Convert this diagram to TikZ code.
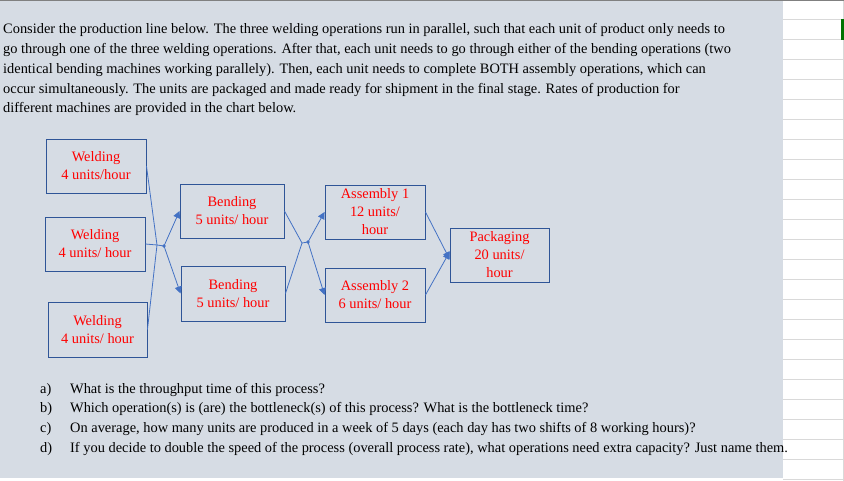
\documentclass[tikz,border=0pt]{standalone}
\usepackage{fontspec}
\setmainfont{Liberation Serif}
\usetikzlibrary{arrows.meta}
\definecolor{bg}{HTML}{D6DCE4}
\definecolor{ln}{HTML}{4472C4}
\definecolor{bx}{HTML}{2F5597}
\definecolor{grid}{HTML}{D9D9D9}
\begin{document}
\begin{tikzpicture}[x=1pt,y=-1pt,
  box/.style={draw=bx,line width=0.9pt,text=red,align=center,font=\fontsize{14.4}{18}\selectfont,inner sep=0pt},
  txt/.style={anchor=west,inner sep=0pt,font=\fontsize{14.4}{16}\selectfont},
  con/.style={draw=ln,line width=0.8pt},
  arr/.style={con,-{Triangle[length=7pt,width=7pt]}}]
\useasboundingbox (0,0) rectangle (844,481);
\fill[white] (0,0) rectangle (844,481);
\foreach \y in {19,39,...,479} \draw[grid,line width=0.8pt] (783,\y) -- (843,\y);
\draw[grid,line width=0.8pt] (843,0) -- (843,481);
\fill[green!45!black] (841,19) rectangle (844,40);
\fill[bg] (0,0) rectangle (783,478);
\draw[gray,line width=0.8pt] (0,0.5) -- (844,0.5);
\node[txt] (l1) at (3,30) {Consider the production line below. The three welding operations run in parallel, such that each unit of product only needs to};
\node[txt] (l2) at (3,50) {go through one of the three welding operations. After that, each unit needs to go through either of the bending operations (two};
\node[txt] (l3) at (3,70) {identical bending machines working parallely). Then, each unit needs to complete BOTH assembly operations, which can};
\node[txt] (l4) at (3,90) {occur simultaneously. The units are packaged and made ready for shipment in the final stage. Rates of production for};
\node[txt] (l5) at (3,109) {different machines are provided in the chart below.};
\node[box,minimum width=100,minimum height=54] (w1) at (96,166) {Welding\\4 units/hour};
\node[box,minimum width=100,minimum height=54] (w2) at (95,244) {Welding\\4 units/ hour};
\node[box,minimum width=99,minimum height=55] (w3) at (97.5,329.5) {Welding\\4 units/ hour};
\node[box,minimum width=104,minimum height=54] (b1) at (232,211) {Bending\\5 units/ hour};
\node[box,minimum width=104,minimum height=55] (b2) at (233,293.5) {Bending\\5 units/ hour};
\node[box,minimum width=100,minimum height=54] (a1) at (375,212) {Assembly 1\\12 units/\\hour};
\node[box,minimum width=100,minimum height=54] (a2) at (375,295) {Assembly 2\\6 units/ hour};
\node[box,minimum width=99,minimum height=54] (p) at (499.5,255) {Packaging\\20 units/\\hour};
\coordinate (j1) at (157,245);
\coordinate (d1) at (164,246);
\coordinate (j2) at (302,243);
\coordinate (d2) at (308,242);
\draw[con] (w1.east) -- (j1);
\draw[con] (w3.east) -- (j1);
\draw[con] (w2.east) -- (j1) -- (d1);
\fill[ln] (d1) circle (1.8);
\draw[arr] (d1) -- (b1.west);
\draw[arr] (d1) -- (b2.west);
\draw[con] (b1.east) -- (j2);
\draw[con] (b2.east) -- (j2) -- (d2);
\fill[ln] (d2) circle (1.8);
\draw[arr] (d2) -- (a1.west);
\draw[arr] (d2) -- (a2.west);
\draw[arr] (a1.east) -- ([yshift=-4]p.west);
\draw[arr] (a2.east) -- ([yshift=3]p.west);
\node[txt] (qa) at (40,390) {a)};
\node[txt] (qb) at (40,409) {b)};
\node[txt] (qc) at (40,429) {c)};
\node[txt] (qd) at (40,449) {d)};
\node[txt] (ta) at (70,390) {What is the throughput time of this process?};
\node[txt] (tb) at (70,409) {Which operation(s) is (are) the bottleneck(s) of this process? What is the bottleneck time?};
\node[txt] (tc) at (70,429) {On average, how many units are produced in a week of 5 days (each day has two shifts of 8 working hours)?};
\node[txt] (td) at (70,449) {If you decide to double the speed of the process (overall process rate), what operations need extra capacity? Just name them.};
\end{tikzpicture}
\end{document}
